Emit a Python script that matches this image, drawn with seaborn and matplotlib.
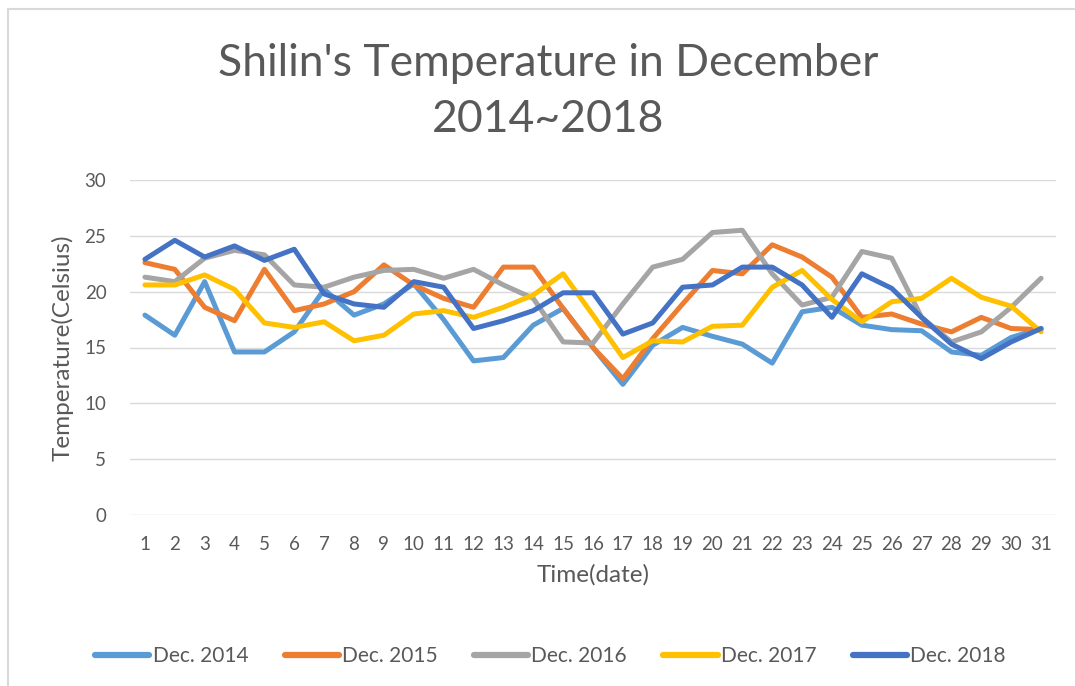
import matplotlib
matplotlib.use("Agg")
import matplotlib.pyplot as plt
import seaborn as sns
import pandas as pd
from matplotlib.patches import Rectangle

days = list(range(1, 32))
dec_2014 = [17.9, 16.1, 20.9, 14.6, 14.6, 16.4, 20.2, 17.9, 18.9, 20.7,
            17.5, 13.8, 14.1, 17.0, 18.5, 15.0, 11.7, 15.2, 16.8, 16.0,
            15.3, 13.6, 18.2, 18.6, 17.0, 16.6, 16.5, 14.6, 14.3, 15.9, 16.7]
dec_2015 = [22.6, 22.0, 18.6, 17.4, 22.0, 18.3, 18.9, 20.0, 22.4, 20.6,
            19.4, 18.6, 22.2, 22.2, 18.5, 15.0, 12.2, 15.8, 18.9, 21.9,
            21.6, 24.2, 23.1, 21.3, 17.7, 18.0, 17.1, 16.4, 17.7, 16.7, 16.6]
dec_2016 = [21.3, 20.9, 23.0, 23.7, 23.3, 20.6, 20.4, 21.3, 21.9, 22.0,
            21.2, 22.0, 20.6, 19.4, 15.5, 15.4, 18.9, 22.2, 22.9, 25.3,
            25.5, 21.6, 18.8, 19.5, 23.6, 23.0, 17.7, 15.5, 16.4, 18.6, 21.2]
dec_2017 = [20.6, 20.6, 21.5, 20.2, 17.2, 16.8, 17.3, 15.6, 16.1, 18.0,
            18.3, 17.7, 18.6, 19.7, 21.6, 17.9, 14.1, 15.6, 15.5, 16.9,
            17.0, 20.4, 21.9, 19.3, 17.3, 19.1, 19.4, 21.2, 19.5, 18.7, 16.4]
dec_2018 = [22.9, 24.6, 23.1, 24.1, 22.8, 23.8, 19.8, 18.9, 18.6, 20.9,
            20.4, 16.7, 17.4, 18.3, 19.9, 19.9, 16.2, 17.2, 20.4, 20.6,
            22.2, 22.2, 20.6, 17.7, 21.6, 20.3, 17.7, 15.3, 14.0, 15.5, 16.7]
series_names = ["Dec. 2014", "Dec. 2015", "Dec. 2016", "Dec. 2017", "Dec. 2018"]
y_ticks = [0, 5, 10, 15, 20, 25, 30]

colors = ["#5B9BD5", "#ED7D31", "#A5A5A5", "#FFC000", "#4472C4"]

frames = []
for name, vals in zip(series_names, [dec_2014, dec_2015, dec_2016, dec_2017, dec_2018]):
    frames.append(pd.DataFrame({"day": days, "temp": vals, "series": name}))
df = pd.concat(frames, ignore_index=True)

sns.set_style("white")
plt.rcParams["font.family"] = ["Lato", "DejaVu Sans"]
text_color = "#595959"

fig = plt.figure(figsize=(10.75, 6.86), dpi=100)
ax = fig.add_axes([130 / 1075, 1 - 515 / 686, (1056 - 130) / 1075, (515 - 180) / 686])

sns.lineplot(data=df, x="day", y="temp", hue="series", palette=colors,
             linewidth=3.6, ax=ax, legend=False, sort=False)
for ln in ax.get_lines():
    ln.set_solid_capstyle("round")
    ln.set_solid_joinstyle("round")

ax.set_xlim(0.5, 31.5)
ax.set_ylim(0, 30)
ax.set_yticks(y_ticks)
ax.set_xticks(days)
ax.set_xticklabels([str(d) for d in days])
ax.grid(axis="y", color="#D9D9D9", linewidth=1.0)
ax.set_axisbelow(True)
for s in ax.spines.values():
    s.set_visible(False)
ax.tick_params(axis="both", length=0, labelsize=13.5, labelcolor=text_color)
ax.tick_params(axis="x", pad=15)
ax.tick_params(axis="y", pad=17)
ax.set_xlabel("Time(date)", fontsize=17.5, color=text_color, labelpad=8)
ax.set_ylabel("Temperature(Celsius)", fontsize=17.5, color=text_color, labelpad=8)

fig.text(0.51, 1 - 64 / 686, "Shilin's Temperature in December", ha="center", va="center",
         fontsize=32, color=text_color)
fig.text(0.51, 1 - 120 / 686, "2014~2018", ha="center", va="center",
         fontsize=32, color=text_color)

handles = [plt.Line2D([], [], color=c, linewidth=4.5, solid_capstyle="round") for c in colors]
fig.legend(handles, series_names, loc="center", bbox_to_anchor=(0.512, 1 - 656 / 686),
           ncol=5, frameon=False, fontsize=15, handlelength=2.6, handletextpad=0.15,
           columnspacing=1.75, labelcolor=text_color)

fig.patches.append(Rectangle((8 / 1075, -0.05), 1.1, 1 - 9 / 686 + 0.05, transform=fig.transFigure,
                             fill=False, edgecolor="#D9D9D9", linewidth=1.5))

fig.savefig("out.png", dpi=100)
